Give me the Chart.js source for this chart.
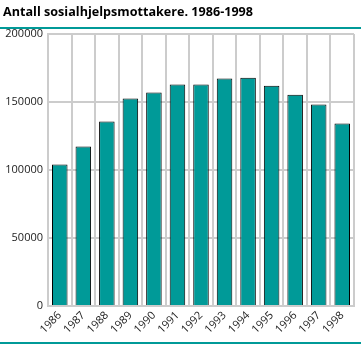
<!DOCTYPE html>
<html>
<head>
<meta charset="utf-8">
<script src="https://cdn.jsdelivr.net/npm/chart.js@4/dist/chart.umd.min.js"></script>
<style>
  html, body { margin: 0; padding: 0; background: #fff; }
  #wrap { position: relative; width: 361px; height: 345px; }
</style>
</head>
<body>
<div id="wrap"><canvas id="c" width="361" height="345"></canvas></div>
<script>
// Antall sosialhjelpsmottakere per år
const years = ['1986','1987','1988','1989','1990','1991','1992','1993','1994','1995','1996','1997','1998'];
const recipients = [104000, 117200, 135600, 152500, 156900, 162800, 162800, 167200, 167900, 162000, 155400, 148100, 134100];
const yTicks = [0, 50000, 100000, 150000, 200000];
const titleText = 'Antall sosialhjelpsmottakere. 1986-1998';

const TEAL = '#009a98';
const GRID = '#cccccc';
const FONT = "'Open Sans', 'DejaVu Sans', sans-serif";

// Title and teal rules above and below the chart
const frame = {
  id: 'frame',
  afterDraw(chart) {
    const ctx = chart.ctx;
    ctx.save();
    ctx.fillStyle = '#000';
    ctx.font = "bold 13px " + FONT;
    ctx.textBaseline = 'alphabetic';
    ctx.textAlign = 'left';
    ctx.fillText(titleText, 3, 16, 250);
    ctx.fillStyle = TEAL;
    ctx.fillRect(0, 27, chart.width, 2);
    ctx.fillRect(0, 342, chart.width, 2);
    ctx.restore();
  }
};

new Chart(document.getElementById('c'), {
  type: 'bar',
  data: {
    labels: years,
    datasets: [{
      data: recipients,
      backgroundColor: TEAL,
      borderColor: '#000',
      borderWidth: 1,
      borderSkipped: 'bottom',
      categoryPercentage: 1,
      barPercentage: 0.66
    }]
  },
  options: {
    responsive: false,
    animation: false,
    devicePixelRatio: 1,
    layout: { padding: { top: 34, right: 7, left: 0, bottom: 0 } },
    plugins: { legend: { display: false }, title: { display: false }, tooltip: { enabled: false } },
    scales: {
      x: {
        grid: { color: GRID, lineWidth: 2, offset: true, drawTicks: false },
        border: { color: GRID, width: 2 },
        ticks: {
          color: '#222',
          font: { family: FONT, size: 11 },
          minRotation: 45, maxRotation: 45,
          padding: 3
        },
        afterFit(s) { s.height = 39; }
      },
      y: {
        min: 0, max: 200000,
        afterBuildTicks(s) { s.ticks = yTicks.map(v => ({ value: v })); },
        grid: { color: GRID, lineWidth: 2, drawTicks: false },
        border: { color: GRID, width: 2 },
        ticks: {
          color: '#222',
          font: { family: FONT, size: 11 },
          padding: 5,
          callback: v => String(v)
        },
        afterFit(s) { s.width = 48; }
      }
    }
  },
  plugins: [frame]
});
</script>
</body>
</html>
